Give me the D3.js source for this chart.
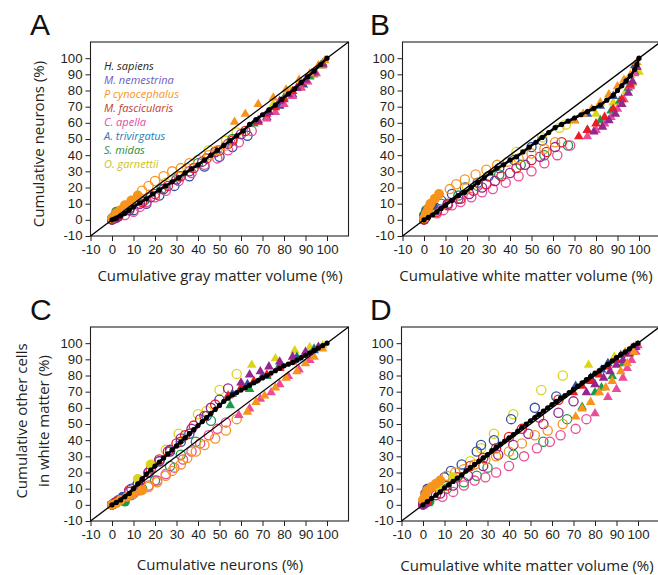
<!DOCTYPE html>
<html>
<head>
<meta charset="utf-8">
<script src="https://cdn.jsdelivr.net/npm/d3@7"></script>
<style>
  body { margin: 0; background: #fff; }
  .tick text { font-family: "Liberation Sans", Arial, sans-serif; font-size: 12px; fill: #231f20; }
  .title { font-family: "Open Sans", sans-serif; font-size: 15px; fill: #231f20; }
  .letter { font-family: "Liberation Sans", Arial, sans-serif; font-size: 30px; fill: #111; }
  .legend { font-family: "Open Sans", sans-serif; font-size: 11px; font-style: italic; }
</style>
</head>
<body>
<div class="chart"></div>
<script>
var svgWidth = 658;
var svgHeight = 575;

// species and colours
var species = ["H. sapiens", "M. nemestrina", "P cynocephalus", "M. fascicularis",
               "C. apella", "A. trivirgatus", "S. midas", "O. garnettii"];
var legendColors = ["#231f20", "#6a5bc0", "#f7941d", "#bf3d2b", "#e04b9c", "#2d7ab5", "#2e8b3e", "#c9c31c"];
var markColors = ["#000000", "#93278f", "#f7941d", "#ed1c24", "#ec4b97", "#3150a3", "#1a9b48", "#dcd41c"];

// per species: how many sections are filled circles, then open circles; the rest are triangles
var nFilled = [0, 2, 6, 3, 1, 4, 2, 2];
var nOpen   = [0, 10, 11, 10, 13, 9, 7, 6];

var tickValues = [-10, 0, 10, 20, 30, 40, 50, 60, 70, 80, 90, 100];

// A: cumulative gray matter volume (%) vs cumulative neurons (%)
var grayNeurons = [
  [[0,0],[1,0.5],[2,1],[4,2.5],[6,4],[8,6],[10,8],[13,10.5],[16,13],[19,16],[22,18.5],[25,21],[28,23.5],[31,26],[34,29],[37,31.5],[40,34],[43,37],[46,40],[49,43],[52,46],[55,49],[58,52],[61,55],[64,59],[67,62],[70,65],[73,68],[76,71],[79,74.5],[82,78],[85,81],[88,85],[91,88.5],[94,92],[97,96],[100,100]],
  [[0,0],[2,1],[8,6],[13,10],[18,14],[24,19],[30,25],[36,30],[42,36],[48,42],[54,47],[60,53],[68,62],[73,67],[78,74],[82,78],[86,82],[90,87],[94,92],[98,97]],
  [[0,1],[2,4],[4,6],[6,9],[9,12],[12,15],[14,18],[17,21],[20,24],[24,27],[28,30],[32,32],[36,35],[40,37],[45,40],[49,43],[53,46],[57,61],[62,66],[68,72],[75,76],[81,81],[87,87],[92,91],[96,96],[99,99]],
  [[0,0],[1,1],[3,2],[8,6],[14,11],[20,16],[26,21],[32,27],[38,32],[44,38],[50,43],[56,49],[62,55],[68,61],[72,66],[76,70],[80,75],[84,80],[88,85],[93,91],[98,97]],
  [[0,0],[6,3],[10,5],[13,8],[16,11],[20,14],[25,18],[31,24],[37,29],[43,34],[49,38],[54,43],[59,48],[65,55],[72,63],[76,67],[80,72],[84,77],[88,82],[91,86],[95,91],[98,96]],
  [[0,0],[1,2],[3,3],[5,5],[10,6],[16,10],[22,15],[29,21],[36,27],[43,33],[50,39],[56,45],[63,52],[72,64],[78,71],[84,78],[89,84],[94,91],[98,97]],
  [[0,1],[2,5],[8,7],[15,12],[23,19],[31,27],[40,35],[48,42],[56,50],[66,60],[73,67],[80,76],[86,82],[92,89],[97,96]],
  [[0,0],[4,5],[15,13],[25,23],[35,32],[45,43],[53,49],[58,54],[75,72],[83,80],[90,86],[94,90],[98,96]]
];

// B: cumulative white matter volume (%) vs cumulative neurons (%)
var whiteNeurons = [
  [[0,0],[2,1.5],[4,3],[6,5],[8,7],[10,9],[13,12],[16,15],[19,17],[22,20],[25,23],[28,26],[31,29],[34,32],[37,34],[40,37],[43,39],[46,42],[49,45],[52,48],[55,51],[58,54],[61,57],[64,59],[67,61],[70,63],[73,65],[76,67],[79,69],[82,71],[85,74],[88,77],[90,80],[92,83],[94,86],[96,89],[98,93],[99,96],[100,100]],
  [[0,0],[1,2],[6,6],[11,10],[16,13],[21,16],[27,20],[33,24],[40,29],[47,34],[54,39],[61,45],[79,55],[83,58],[86,62],[89,66],[92,72],[95,79],[97,86],[99,95]],
  [[0,1],[1,4],[2,7],[3,10],[5,13],[7,16],[12,19],[15,22],[19,25],[24,28],[29,31],[34,34],[39,36],[44,38],[50,41],[56,44],[61,48],[70,62],[74,66],[78,69],[82,73],[86,78],[90,83],[93,87],[96,90],[99,98]],
  [[0,0],[0.5,1],[1,2],[6,5],[11,9],[17,13],[23,18],[29,22],[36,27],[43,32],[50,37],[57,42],[64,48],[72,52],[76,56],[80,60],[84,64],[88,69],[92,75],[96,84],[99,95]],
  [[0,0],[6,4],[9,6],[13,9],[17,11],[22,14],[27,17],[32,19],[38,23],[44,27],[50,30],[56,35],[62,40],[68,46],[76,52],[80,56],[84,60],[87,64],[90,69],[93,75],[96,83],[98,91]],
  [[0,2],[1,5],[2,7],[4,9],[8,12],[13,16],[19,20],[25,23],[30,27],[35,32],[42,37],[50,45],[55,49],[70,62],[76,66],[82,71],[88,77],[94,86],[98,96]],
  [[0,3],[1,6],[8,10],[16,15],[25,21],[35,28],[45,34],[56,40],[67,46],[76,56],[82,62],[87,68],[91,74],[95,82],[98,92]],
  [[0,1],[3,5],[20,20],[30,27],[43,42],[55,51],[63,57],[66,59],[80,66],[88,73],[94,80],[97,85],[100,92]]
];

// C: cumulative neurons (%) vs cumulative other cells in white matter (%)
var neuronsOther = [
  [[0,0],[2,1.5],[4,3],[6,5],[8,7],[10,10],[12,13],[14,16],[16,19],[18,21.5],[20,24],[22,26.5],[24,29],[26,31.5],[28,34],[30,36.5],[32,39],[34,41.5],[36,44],[38,46.5],[40,49],[42,51.5],[44,54],[46,56.5],[48,59],[50,61.5],[52,64],[54,66],[56,68],[58,69.5],[60,71],[62,72.5],[64,74],[66,75.5],[68,77],[70,78.5],[72,80],[74,81.5],[76,83],[78,84.5],[80,86],[82,87],[84,88],[86,89.5],[88,91],[90,92.5],[92,94],[94,95.5],[96,97],[98,98.5],[100,100]],
  [[0,0],[1,1],[8,8],[12,13],[17,20],[22,27],[27,34],[32,41],[37,47],[41,53],[46,60],[54,72],[60,76],[64,81],[69,83],[73,86],[78,89],[84,92],[90,95],[96,98]],
  [[0,0],[2,1],[4,3],[7,5],[10,7],[14,9],[17,11],[21,14],[25,18],[28,21],[32,25],[35,29],[39,33],[43,37],[48,41],[53,46],[58,53],[63,58],[67,64],[71,68],[76,73],[81,79],[86,83],[90,88],[94,92],[98,97]],
  [[0,0],[1,1],[2,2],[8,9],[13,15],[18,22],[22,28],[26,33],[30,38],[34,43],[38,49],[43,55],[48,62],[54,68],[60,73],[66,77],[72,81],[78,85],[84,89],[90,94],[96,98]],
  [[0,0],[5,3],[9,6],[13,9],[17,12],[21,15],[25,19],[29,23],[33,28],[37,33],[41,38],[45,43],[49,47],[53,51],[59,56],[64,60],[69,66],[74,70],[78,75],[82,80],[87,84],[92,90]],
  [[0,0],[1,1],[3,3],[5,5],[9,10],[12,13],[17,20],[22,27],[27,33],[32,39],[36,44],[44,55],[50,65],[56,69],[63,75],[70,80],[78,86],[86,91],[94,96]],
  [[0,0],[6,2],[10,7],[14,10],[20,15],[27,24],[32,31],[39,39],[46,52],[55,62],[64,72],[72,80],[78,87],[86,92],[94,97]],
  [[12,16],[18,25],[25,34],[31,44],[40,56],[44,58],[50,71],[58,81],[65,87],[76,91],[85,96],[92,98],[98,99]]
];

// D: cumulative white matter volume (%) vs cumulative other cells in white matter (%)
var whiteOther = [
  [[0,0],[2,2],[4,4],[6,6],[8,8],[10,10.5],[12,12.5],[14,14.5],[16,16.5],[18,18.5],[20,21],[22,23],[24,25],[26,27],[28,29],[30,31],[32,33.5],[34,35.5],[36,37.5],[38,39.5],[40,41.5],[42,43.5],[44,45.5],[46,48],[48,50],[50,52],[52,54],[54,56],[56,58],[58,60],[60,62],[62,64],[64,66],[66,67.5],[68,69.5],[70,71.5],[72,73.5],[74,75.5],[76,77.5],[78,79.5],[80,81.5],[82,83],[84,85],[86,87],[88,89],[90,91],[92,93],[94,94.5],[96,96.5],[98,98.5],[100,100]],
  [[0,0],[1,1],[8,7],[14,12],[21,18],[28,24],[35,31],[42,37],[49,44],[56,50],[63,57],[70,64],[76,70],[80,75],[84,79],[87,83],[90,87],[93,90],[96,94],[99,98]],
  [[0,3],[1,6],[2,9],[4,11],[6,13],[8,15],[11,18],[15,20],[19,22],[24,25],[29,28],[34,30],[40,33],[46,38],[52,43],[58,46],[65,50],[71,55],[74,60],[78,64],[82,70],[85,73],[88,77],[92,83],[95,88],[98,95]],
  [[0,0],[1,1],[2,2],[6,6],[11,12],[16,17],[22,24],[28,29],[34,35],[40,42],[46,47],[54,54],[63,65],[70,70],[74,74],[78,77],[82,81],[86,86],[90,90],[94,94],[98,98]],
  [[0,0],[9,5],[14,8],[19,12],[24,15],[29,17],[34,20],[40,24],[47,30],[53,35],[59,39],[64,43],[71,47],[76,53],[80,57],[86,67],[90,72],[93,79],[95,85],[97,90],[99,95],[100,99]],
  [[0,1],[1,4],[1,7],[2,10],[10,17],[13,21],[18,25],[25,33],[27,37],[33,40],[41,53],[52,60],[62,67],[71,74],[78,79],[83,84],[86,88],[92,93],[97,97]],
  [[0,1],[3,2],[11,10],[19,14],[25,18],[30,23],[42,31],[56,39],[67,53],[74,61],[80,70],[83,73],[88,80],[93,88],[97,95]],
  [[8,10],[14,17],[22,27],[27,35],[33,44],[42,56],[55,71],[65,80],[77,87],[89,92],[94,95],[97,97],[99,99]]
];

var panels = [
  { letter: "A", data: grayNeurons, xr: [90.5, 348.5], yr: [236, 42], lx: 30, ly: 35,
    xTitle: "Cumulative gray matter volume (%)", xtx: 220, xty: 281,
    yTitle: ["Cumulative neurons (%)"], ytx: [44], yty: 144, legend: true },
  { letter: "B", data: whiteNeurons, xr: [402.5, 660.5], yr: [236, 42], lx: 370, ly: 35,
    xTitle: "Cumulative white matter volume (%)", xtx: 526, xty: 281, yTitle: [] },
  { letter: "C", data: neuronsOther, xr: [90.5, 348.5], yr: [521, 327], lx: 30, ly: 320,
    xTitle: "Cumulative neurons (%)", xtx: 220, xty: 570,
    yTitle: ["Cumulative other cells", "in white matter (%)"], ytx: [27, 49], yty: 421 },
  { letter: "D", data: whiteOther, xr: [401.5, 659.5], yr: [521, 327], lx: 370, ly: 320,
    xTitle: "Cumulative white matter volume (%)", xtx: 527, xty: 571, yTitle: [] }
];

var svg = d3.select(".chart")
    .append("svg")
    .attr("width", svgWidth)
    .attr("height", svgHeight);

var tri = d3.symbol().type(d3.symbolTriangle).size(40);
var drawOrder = [7, 6, 5, 4, 3, 1, 2];

panels.forEach(function(p) {
    var g = svg.append("g");
    var x = d3.scaleLinear().domain([-10, 110]).range(p.xr);
    var y = d3.scaleLinear().domain([-10, 110]).range(p.yr);

    // box
    g.append("rect")
        .attr("x", p.xr[0]).attr("y", p.yr[1])
        .attr("width", p.xr[1] - p.xr[0]).attr("height", p.yr[0] - p.yr[1])
        .attr("fill", "none").attr("stroke", "#231f20").attr("stroke-width", 1.1);

    // axes
    var bottom = g.append("g")
        .attr("transform", `translate(0, ${p.yr[0]})`)
        .call(d3.axisBottom(x).tickValues(tickValues).tickSize(5).tickPadding(4).tickFormat(d => String(d)));
    var left = g.append("g")
        .attr("transform", `translate(${p.xr[0]}, 0)`)
        .call(d3.axisLeft(y).tickValues(tickValues).tickSize(5).tickPadding(3).tickFormat(d => String(d)));
    [bottom, left].forEach(function(a) {
        a.select(".domain").remove();
        a.selectAll("line").attr("stroke", "#231f20");
        a.selectAll("text").attr("fill", "#231f20").attr("transform", "scale(1.1,1)");
    });
    left.selectAll("text").attr("x", -8 / 1.1);

    // open circles, then filled circles, then triangles
    var kinds = ["ring", "dot", "tri"];
    kinds.forEach(function(kind) {
        drawOrder.forEach(function(i) {
            var pts = p.data[i].filter(function(d, j) {
                var k = j < nFilled[i] ? "dot" : (j < nFilled[i] + nOpen[i] ? "ring" : "tri");
                return k === kind;
            });
            if (kind === "tri") {
                g.selectAll(null).data(pts).enter().append("path")
                    .attr("d", tri)
                    .attr("transform", d => `translate(${x(d[0])}, ${y(d[1]) + 0.8})`)
                    .attr("fill", markColors[i]);
            } else {
                g.selectAll(null).data(pts).enter().append("circle")
                    .attr("cx", d => x(d[0]))
                    .attr("cy", d => y(d[1]))
                    .attr("r", kind === "ring" ? 4.6 : 5)
                    .attr("fill", kind === "ring" ? "none" : markColors[i])
                    .attr("stroke", markColors[i])
                    .attr("stroke-width", kind === "ring" ? 1.3 : 0);
            }
        });
    });

    // identity line
    g.append("line")
        .attr("x1", x(-10)).attr("y1", y(-10))
        .attr("x2", x(110)).attr("y2", y(110))
        .attr("stroke", "#000").attr("stroke-width", 1.3);

    // H. sapiens: dense small markers forming a thick band
    g.append("path")
        .datum(p.data[0])
        .attr("d", d3.line().x(d => x(d[0])).y(d => y(d[1])))
        .attr("fill", "none")
        .attr("stroke", markColors[0])
        .attr("stroke-width", 2.6);
    g.selectAll(null).data(p.data[0]).enter().append("circle")
        .attr("cx", d => x(d[0]))
        .attr("cy", d => y(d[1]))
        .attr("r", 2.6)
        .attr("fill", markColors[0]);

    // titles
    g.append("text").attr("class", "title")
        .attr("x", p.xtx).attr("y", p.xty)
        .attr("text-anchor", "middle")
        .text(p.xTitle);
    p.yTitle.forEach(function(t, k) {
        g.append("text").attr("class", "title")
            .attr("transform", `translate(${p.ytx[k]}, ${p.yty}) rotate(-90)`)
            .attr("text-anchor", "middle")
            .text(t);
    });
    g.append("text").attr("class", "letter")
        .attr("x", p.lx).attr("y", p.ly)
        .text(p.letter);

    if (p.legend) {
        var legY = [70, 84, 98, 111.5, 126, 140, 153.5, 168];
        species.forEach(function(s, i) {
            g.append("text").attr("class", "legend")
                .attr("x", 104).attr("y", legY[i])
                .attr("fill", legendColors[i])
                .text(s);
        });
    }
});
</script>
</body>
</html>
